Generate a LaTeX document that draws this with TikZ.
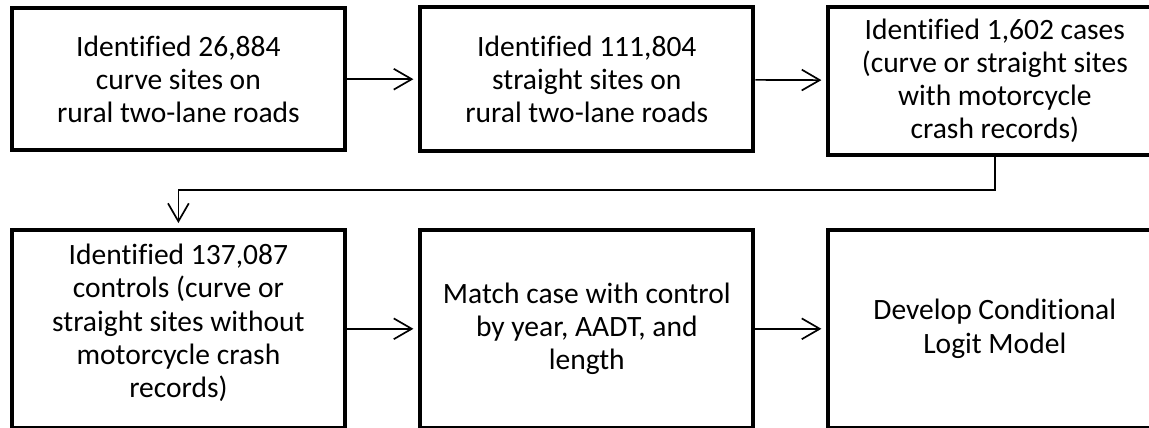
\documentclass[tikz,border=0pt]{standalone}
\usepackage{fontspec}
\setmainfont{Carlito}[Ligatures=NoCommon]
\usepackage{tikz}
\usetikzlibrary{arrows.meta, positioning, calc}

\begin{document}
\begin{tikzpicture}[
  stepbox/.style={draw=black, line width=2.8pt, fill=white, align=center, inner sep=4pt, font=\fontsize{21}{23.6}\selectfont, minimum width=8.33cm},
  flow/.style={line width=1.2pt, -{Straight Barb[length=0.45cm, width=0.52cm, line width=1.2pt]}, shorten >=0.12cm}
]
  \clip (0,0) rectangle (28.725,-10.675);
  \useasboundingbox (0,0) rectangle (28.725,-10.675);

  % top row
  \node[stepbox, minimum height=3.55cm] (curve) at (4.46,-1.98) {Identified 26,884\\curve sites on\\rural two-lane roads};
  \node[stepbox, minimum height=3.6cm] (straight) at (14.67,-1.98) {Identified 111,804\\straight sites on\\rural two-lane roads};
  \node[stepbox, minimum height=3.7cm] (cases) at (24.87,-2.02) {Identified 1,602 cases\\(curve or straight sites\\with motorcycle\\crash records)};

  % bottom row
  \node[stepbox, minimum height=4.95cm] (controls) at (4.46,-8.22) {Identified 137,087\\controls (curve or\\straight sites without\\motorcycle crash\\\raisebox{0pt}[\height][\dimexpr\depth+0.3cm]{records)}};
  \node[stepbox, minimum height=4.95cm] (match) at (14.67,-8.22) {Match case with control\\by year, AADT, and\\length};
  \node[stepbox, minimum height=4.95cm] (model) at (24.87,-8.22) {Develop Conditional\\Logit Model};

  \coordinate (turn) at (0,-4.75);

  \draw[flow] (curve) -- (straight);
  \draw[flow] (straight) -- (cases);
  \draw[flow] (cases.south) |- (controls.north |- turn) -- (controls.north);
  \draw[flow] (controls) -- (match);
  \draw[flow] (match) -- (model);
\end{tikzpicture}
\end{document}
